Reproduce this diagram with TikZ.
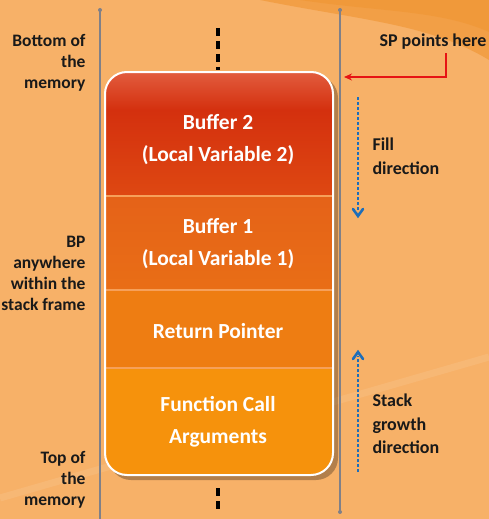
\documentclass[tikz,border=0pt]{standalone}
\usepackage{fontspec}
\setmainfont{Carlito}
\usetikzlibrary{arrows.meta}
\definecolor{bgorange}{RGB}{247,177,104}
\definecolor{swoosh}{RGB}{240,148,48}
\definecolor{railgray}{RGB}{128,128,136}
\definecolor{redA}{RGB}{226,92,62}
\definecolor{redB}{RGB}{212,48,14}
\definecolor{redC}{RGB}{222,72,18}
\definecolor{orA}{RGB}{229,98,24}
\definecolor{orB}{RGB}{233,110,22}
\definecolor{orC}{RGB}{238,125,18}
\definecolor{orD}{RGB}{246,146,12}
\definecolor{sepline}{RGB}{246,160,90}
\definecolor{arrowblue}{RGB}{30,110,185}
\definecolor{sparrow}{RGB}{230,20,20}
\begin{document}
\begin{tikzpicture}[x=1pt,y=-1pt,
  rail/.style={draw=railgray,line width=1.8pt},
  memdash/.style={draw=black,line width=3.2pt,dash pattern=on 8pt off 5pt},
  celltext/.style={text=white,font=\bfseries\fontsize{21.5}{32}\selectfont,align=center},
  sidetext/.style={text=black!90,font=\bfseries\fontsize{17.5}{21}\selectfont,align=right,anchor=east},
  notetext/.style={text=black!90,font=\bfseries\fontsize{18}{23.5}\selectfont,align=left,anchor=west},
  dirarrow/.style={draw=arrowblue,line width=2.8pt,dash pattern=on 2.6pt off 2.4pt},
  chevron/.style={draw=arrowblue,line width=2.6pt,line cap=round,line join=miter}]
% background
\fill[bgorange] (0,0) rectangle (489,519);
\useasboundingbox (0,0) rectangle (489,519);
\fill[swoosh,opacity=0.6] (260,0) .. controls (360,20) and (430,24) .. (489,60) -- (489,0) -- cycle;
\fill[swoosh,opacity=0.5] (300,0) .. controls (380,12) and (440,10) .. (489,32) -- (489,0) -- cycle;
\draw[white,opacity=0.09,line width=7pt] (0,498) -- (489,357);

% memory rails
\draw[rail] (100,9) -- (100,519);
\draw[rail] (340,9) -- (340,512);
\fill[railgray] (100,10) circle (2pt) (340,10) circle (2pt) (340,512) circle (2pt);

% dashed continuation marks
\draw[memdash] (218,28) -- (218,70);
\draw[memdash] (218,488) -- (218,512);

% stack frame shadow
\fill[black,opacity=0.28,rounded corners=22pt] (109,76) rectangle (338,480);

% stack frame cells
\begin{scope}
  \clip[rounded corners=22pt] (105,72) rectangle (333,475);
  \shade[top color=redA,bottom color=redB] (105,72) rectangle (333,110);
  \shade[top color=redB,bottom color=redC] (105,110) rectangle (333,196);
  \shade[top color=orA,bottom color=orB] (105,196) rectangle (333,290);
  \fill[orC] (105,290) rectangle (333,368);
  \fill[orD] (105,368) rectangle (333,475);
  \draw[sepline,line width=1.2pt] (105,196) -- (333,196) (105,290) -- (333,290) (105,368) -- (333,368);
\end{scope}
\draw[white,line width=2pt,rounded corners=22pt] (105,72) rectangle (333,475);

% cell labels
\node[celltext] (buf2) at (218,140) {Buffer 2\\(Local Variable 2)};
\node[celltext] (buf1) at (218,244) {Buffer 1\\(Local Variable 1)};
\node[celltext] (ret) at (218,331) {Return Pointer};
\node[celltext] (args) at (218,422) {Function Call\\Arguments};

% side labels
\node[sidetext] (bottom) at (89,63) {Bottom of\\the\\memory};
\node[sidetext] (bp) at (89,273) {BP\\anywhere\\within the\\stack frame};
\node[sidetext] (top) at (89,480) {Top of\\the\\memory};

% stack pointer marker
\node[notetext,anchor=center] (sp) at (433,42) {SP points here};
\coordinate (sptip) at (344,77);
\draw[sparrow,line width=2.2pt,-{Stealth[length=8pt,width=7pt]}]
  (sp.south -| 446,0) -- (446,77) -- (sptip);

% fill direction: dotted shaft with a chevron head
\coordinate (fillstart) at (358,97);
\coordinate (fillend) at (358,216);
\draw[dirarrow] (fillstart) -- ([yshift=4pt]fillend);
\draw[chevron] ([xshift=-5pt,yshift=7pt]fillend) -- (fillend) -- ([xshift=5pt,yshift=7pt]fillend);
\node[notetext] (fill) at (369,156) {Fill\\direction};

% stack growth direction
\coordinate (growstart) at (358,472);
\coordinate (growend) at (358,352);
\draw[dirarrow] (growstart) -- ([yshift=-4pt]growend);
\draw[chevron] ([xshift=-5pt,yshift=-7pt]growend) -- (growend) -- ([xshift=5pt,yshift=-7pt]growend);
\node[notetext] (grow) at (369,424) {Stack\\growth\\direction};
\end{tikzpicture}
\end{document}
